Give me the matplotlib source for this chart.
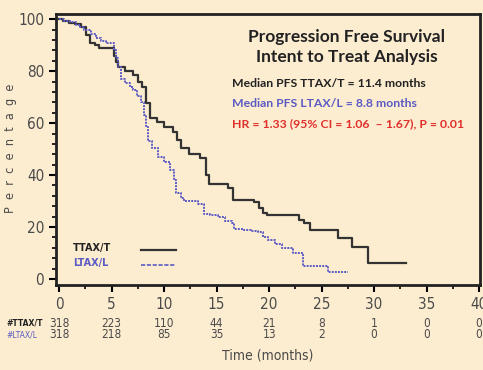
import numpy as np
import matplotlib.pyplot as plt
from matplotlib.ticker import MultipleLocator

# Kaplan-Meier step data
time_ttax = [0, 0.4, 0.9, 1.5, 2.1, 2.6, 2.9, 3.4, 3.8, 5.2, 5.4, 5.6, 6.3, 7.0,
             7.5, 7.9, 8.3, 8.7, 9.3, 10.0, 10.8, 11.2, 11.6, 12.4, 13.4, 14.0,
             14.3, 16.1, 16.6, 18.6, 19.0, 19.4, 19.8, 22.8, 23.3, 23.9, 24.7,
             26.6, 27.9, 29.4, 33.0]
surv_ttax = [100, 99.3, 98.7, 98.2, 97.0, 94.0, 91.0, 90.0, 88.8, 86.0, 83.5,
             81.5, 80.0, 78.5, 76.0, 74.0, 67.7, 62.0, 60.5, 58.5, 56.5, 53.5,
             50.5, 48.0, 46.5, 40.0, 36.5, 35.0, 30.4, 29.6, 27.5, 25.5, 24.6,
             22.7, 21.5, 18.8, 18.8, 15.8, 12.3, 6.2, 6.2]

time_ltax = [0, 0.5, 1.0, 1.6, 2.0, 2.4, 3.0, 3.5, 4.0, 4.5, 5.2, 5.4, 5.6,
             5.9, 6.3, 6.7, 7.0, 7.4, 7.8, 8.1, 8.3, 8.5, 8.8, 9.4, 10.0, 10.6,
             10.9, 11.1, 11.6, 11.9, 13.2, 13.8, 14.4, 15.1, 15.8, 16.5, 16.7,
             17.5, 18.3, 18.9, 19.4, 19.9, 20.6, 21.2, 22.3, 23.2, 25.6, 27.5]
surv_ltax = [100, 99.5, 99.0, 97.7, 97.2, 95.8, 94.5, 92.7, 91.8, 90.8, 88.0,
             85.0, 81.5, 77.0, 75.5, 74.0, 72.7, 70.5, 68.0, 63.0, 58.5, 53.0,
             50.5, 47.0, 45.0, 42.0, 38.0, 33.0, 31.0, 30.0, 29.0, 25.0, 24.5,
             23.8, 22.5, 21.5, 19.2, 18.8, 18.5, 18.0, 16.0, 15.0, 13.5, 12.0,
             10.0, 5.0, 2.7, 2.7]

risk_times = [0, 5, 10, 15, 20, 25, 30, 35, 40]
risk_ttax = [318, 223, 110, 44, 21, 8, 1, 0, 0]
risk_ltax = [318, 218, 85, 35, 13, 2, 0, 0, 0]

bg = '#fcecd0'
blue = '#5b5bc4'
red = '#e0302c'
grey = '#4a4a4a'
bold_font = ['Lato', 'DejaVu Sans']

fig = plt.figure(figsize=(4.83, 3.70), dpi=100, facecolor=bg)
ax = fig.add_axes([0.116, 0.23, 0.878, 0.732], facecolor=bg)

ax.step(time_ttax, surv_ttax, where='post', color='#333333', lw=1.6)
ax.step(time_ltax, surv_ltax, where='post', color=blue, lw=1.4,
        linestyle=(0, (1, 0.6)))

ax.set_xlim(-0.3, 40.1)
ax.set_ylim(-2.3, 102)
ax.xaxis.set_major_locator(MultipleLocator(5))
ax.xaxis.set_minor_locator(MultipleLocator(2.5))
ax.yaxis.set_major_locator(MultipleLocator(20))
ax.yaxis.set_minor_locator(MultipleLocator(4))
ax.tick_params(which='major', direction='out', length=5, width=1.5,
               labelsize=11, labelcolor=grey)
ax.tick_params(which='minor', direction='out', length=3, width=1.2)
for lab in ax.get_xticklabels() + ax.get_yticklabels():
    lab.set_family('DejaVu Sans')
    lab.set_stretch('condensed')
for s in ax.spines.values():
    s.set_linewidth(2)
    s.set_color('#222222')

# y label with spaced letters
fig.text(0.022, 0.60, '  '.join('Percentage'), rotation=90, ha='center',
         va='center', fontsize=9, color=grey, family='DejaVu Sans',
         stretch='condensed')
fig.text(0.555, 0.04, 'Time (months)', ha='center', va='center',
         fontsize=10, color=grey, family='DejaVu Sans', stretch='condensed')

# annotation block
ax.text(0.685, 0.915, 'Progression Free Survival', transform=ax.transAxes,
        ha='center', va='center', fontsize=12.5, fontweight='bold',
        color='#222222', family=bold_font)
ax.text(0.685, 0.84, 'Intent to Treat Analysis', transform=ax.transAxes,
        ha='center', va='center', fontsize=12.5, fontweight='bold',
        color='#222222', family=bold_font)
ax.text(0.415, 0.745, 'Median PFS TTAX/T = 11.4 months', transform=ax.transAxes,
        ha='left', va='center', fontsize=8.8, fontweight='bold',
        color='#222222', family=bold_font)
ax.text(0.415, 0.67, 'Median PFS LTAX/L = 8.8 months', transform=ax.transAxes,
        ha='left', va='center', fontsize=8.8, fontweight='bold',
        color=blue, family=bold_font)
ax.text(0.415, 0.595, 'HR = 1.33 (95% CI = 1.06  \u2013 1.67), P = 0.01',
        transform=ax.transAxes, ha='left', va='center', fontsize=8.8,
        fontweight='bold', color=red, family=bold_font)

# legend drawn by hand
ax.text(0.04, 0.135, 'TTAX/T', transform=ax.transAxes, ha='left', va='center',
        fontsize=7, fontweight='bold', color='#222222')
ax.text(0.04, 0.08, 'LTAX/L', transform=ax.transAxes, ha='left', va='center',
        fontsize=7, fontweight='bold', color=blue)
ax.plot([0.20, 0.283], [0.128, 0.128], transform=ax.transAxes,
        color='#333333', lw=1.6)
ax.plot([0.20, 0.283], [0.075, 0.075], transform=ax.transAxes,
        color=blue, lw=1.2, linestyle=(0, (2.5, 1)))

# numbers at risk
for t, a, b in zip(risk_times, risk_ttax, risk_ltax):
    ax.annotate(str(a), (t, 0), xycoords=('data', 'figure fraction'),
                xytext=(0, 0.127 * 370), textcoords='offset pixels',
                ha='center', va='center', fontsize=8.5, color=grey,
                family='DejaVu Sans', stretch='condensed')
    ax.annotate(str(b), (t, 0), xycoords=('data', 'figure fraction'),
                xytext=(0, 0.095 * 370), textcoords='offset pixels',
                ha='center', va='center', fontsize=8.5, color=grey,
                family='DejaVu Sans', stretch='condensed')
fig.text(0.014, 0.127, '#TTAX/T', ha='left', va='center', fontsize=5.5,
         fontweight='bold', color='#222222')
fig.text(0.014, 0.095, '#LTAX/L', ha='left', va='center', fontsize=5.5,
         color=blue)

fig.savefig('out.png', dpi=100, facecolor=bg)
